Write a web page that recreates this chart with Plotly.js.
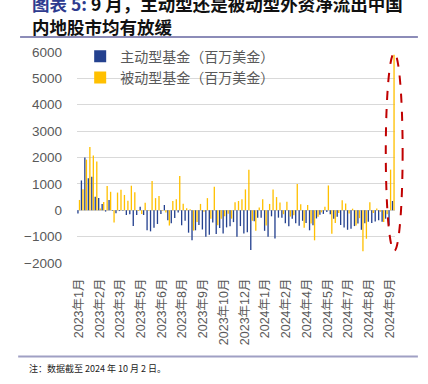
<!DOCTYPE html>
<html><head><meta charset="utf-8">
<script src="https://cdn.plot.ly/plotly-3.0.1.min.js"></script>
<style>html,body{margin:0;padding:0;background:#fff;}#chart{width:428px;height:384px;}</style>
</head><body><div id="chart"></div>
<script>
const weeks = [
"2023-01-04","2023-01-11","2023-01-18","2023-01-25","2023-02-01","2023-02-08","2023-02-15","2023-02-22",
"2023-03-01","2023-03-08","2023-03-15","2023-03-22","2023-03-29","2023-04-05","2023-04-12","2023-04-19",
"2023-04-26","2023-05-03","2023-05-10","2023-05-17","2023-05-24","2023-05-31","2023-06-07","2023-06-14",
"2023-06-21","2023-06-28","2023-07-05","2023-07-12","2023-07-19","2023-07-26","2023-08-02","2023-08-09",
"2023-08-16","2023-08-23","2023-08-30","2023-09-06","2023-09-13","2023-09-20","2023-09-27","2023-10-04",
"2023-10-11","2023-10-18","2023-10-25","2023-11-01","2023-11-08","2023-11-15","2023-11-22","2023-11-29",
"2023-12-06","2023-12-13","2023-12-20","2023-12-27","2024-01-03","2024-01-10","2024-01-17","2024-01-24",
"2024-01-31","2024-02-07","2024-02-14","2024-02-21","2024-02-28","2024-03-06","2024-03-13","2024-03-20",
"2024-03-27","2024-04-03","2024-04-10","2024-04-17","2024-04-24","2024-05-01","2024-05-08","2024-05-15",
"2024-05-22","2024-05-29","2024-06-05","2024-06-12","2024-06-19","2024-06-26","2024-07-03","2024-07-10",
"2024-07-17","2024-07-24","2024-07-31","2024-08-07","2024-08-14","2024-08-21","2024-08-28","2024-09-04",
"2024-09-11","2024-09-18","2024-09-25","2024-10-02"];

const activeFund = [
-120,1130,2000,1210,1270,510,460,240,-50,390,
-20,-110,-30,-20,-180,-150,-600,-180,130,-180,
-760,-800,-660,-520,-140,200,-380,-490,-290,-90,
-570,-400,-850,-1140,-760,-560,-730,-1000,-930,-460,
-900,-670,-880,-650,-610,-450,-1000,-600,-880,-830,
-1510,-420,-280,-280,-780,-1000,-230,-1070,-280,-280,
-490,-610,-320,-490,-590,-400,-480,-760,-570,-310,
-170,-140,-70,-150,-320,-250,-560,-650,-740,-700,
-600,-500,-740,-490,-440,-480,-430,-380,-440,-320,
-570,350];

const passiveFund = [
390,800,1920,2400,2080,1850,70,310,920,700,
-460,670,780,580,360,930,680,-30,-140,280,
-20,1110,460,540,-20,-90,-580,350,420,1300,
250,80,40,-770,-450,240,-60,460,-320,890,
-570,-320,-230,-130,-320,300,350,420,790,1540,
-400,-780,100,420,-580,240,790,500,290,-150,
320,-240,-190,1000,230,-660,200,-500,-1140,-250,
-80,130,940,-890,-480,-100,380,260,-120,60,
-580,-300,-1550,-1080,300,-100,70,-60,-450,-150,
1540,5900];

const tickWeeks = ["2023-01-04","2023-02-15","2023-03-29","2023-05-10","2023-06-21","2023-08-02","2023-09-13","2023-10-25",
"2023-12-06","2024-01-17","2024-02-28","2024-04-10","2024-05-22","2024-07-03","2024-08-14","2024-09-25"];
const tickLabels = ["2023年1月","2023年2月","2023年3月","2023年5月","2023年6月","2023年8月","2023年9月","2023年10月",
"2023年12月","2024年1月","2024年2月","2024年4月","2024年5月","2024年7月","2024年8月","2024年9月"];

const seriesNames = ["主动型基金（百万美金）","被动型基金（百万美金）"];
const titleLine1 = '<b><span style="color:#2E3B8F">图表 5:</span> 9 月，主动型还是被动型外资净流出中国</b>';
const titleLine2 = '<b>内地股市均有放缓</b>';
const noteText = "注：数据截至 2024 年 10 月 2 日。";

const cjk = "Liberation Sans, Noto Sans CJK SC, sans-serif";

const traces = [
  {type:"bar", x:weeks, y:activeFund, name:seriesNames[0], marker:{color:"#24418F"}},
  {type:"bar", x:weeks, y:passiveFund, name:seriesNames[1], marker:{color:"#FFC000"}}
];

const layout = {
  width:428, height:384,
  margin:{l:77, r:33, t:52, b:121, pad:0},
  paper_bgcolor:"#fff", plot_bgcolor:"#fff",
  barmode:"group", bargap:0.1, bargroupgap:0.15,
  font:{family:cjk, color:"#595959"},
  showlegend:true,
  legend:{x:0.01, y:1.054, xanchor:"left", yanchor:"top", bgcolor:"rgba(0,0,0,0)",
          font:{size:14, color:"#595959", family:"Noto Sans CJK SC"}, tracegroupgap:0, itemwidth:30},
  xaxis:{type:"category", tickmode:"array", tickvals:tickWeeks, ticktext:tickLabels, tickangle:-90,
         showgrid:false, zeroline:false, showline:false, ticks:"", ticklabelstandoff:12,
         tickfont:{size:12.5, color:"#595959", family:cjk}},
  yaxis:{range:[-2000,6000], dtick:1000, tickmode:"linear", showgrid:true, gridcolor:"#D9D9D9", gridwidth:1,
         zeroline:true, zerolinecolor:"#D9D9D9", zerolinewidth:1, showline:false, ticks:"",
         ticklabelstandoff:14, tickfont:{size:13.5, color:"#595959", family:"Liberation Sans"}},
  shapes:[
    {type:"line", xref:"paper", yref:"paper", x0:-0.179, x1:1.072, y0:1.071, y1:1.071, line:{color:"#8C8CB8", width:2}},
    {type:"line", xref:"paper", yref:"paper", x0:-0.185, x1:1.072, y0:-0.443, y1:-0.443, line:{color:"#A0A0C4", width:2}},
    {type:"circle", xref:"paper", yref:"paper", x0:0.971, x1:1.024, y0:0.057, y1:0.995, line:{color:"#C00000", width:2, dash:"dash"}}
  ],
  annotations:[
    {xref:"paper", yref:"paper", x:-0.148, y:1.232, xanchor:"left", yanchor:"middle", align:"left", showarrow:false,
     text:titleLine1, font:{size:17.5, color:"#111", family:"Noto Sans CJK SC"}},
    {xref:"paper", yref:"paper", x:-0.148, y:1.123, xanchor:"left", yanchor:"middle", align:"left", showarrow:false,
     text:titleLine2, font:{size:17.5, color:"#111", family:"Noto Sans CJK SC"}},
    {xref:"paper", yref:"paper", x:-0.157, y:-0.498, xanchor:"left", yanchor:"middle", showarrow:false,
     text:noteText, font:{size:9, color:"#222", family:"Noto Sans CJK SC"}}
  ]
};

Plotly.newPlot("chart", traces, layout, {displayModeBar:false, staticPlot:true});
</script></body></html>
